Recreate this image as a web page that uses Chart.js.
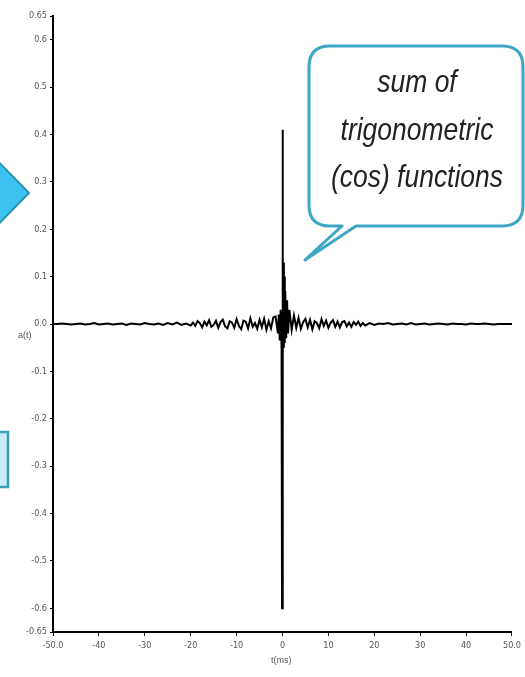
<!DOCTYPE html>
<html>
<head>
<meta charset="utf-8">
<script src="https://cdn.jsdelivr.net/npm/chart.js@4/dist/chart.umd.min.js"></script>
<style>
  body { margin: 0; background: #fff; }
  #wrap { position: relative; width: 525px; height: 677px; overflow: hidden; }
  canvas { position: absolute; left: 0; top: 0; }
  .deco { position: absolute; left: 0; top: 0; }
  .bubble-text {
    position: absolute; left: 310px; width: 214px; text-align: center;
    font-family: "Liberation Sans", Arial, sans-serif;
    font-style: italic; font-size: 27px; color: #222; line-height: 41px; top: 59px;
    transform: scale(0.98, 1.15); transform-origin: 50% 0;
  }
  .axis-title {
    position: absolute; font-family: "Liberation Sans", sans-serif;
    font-size: 9px; color: #555;
  }
</style>
</head>
<body>
<div id="wrap">
  <canvas id="chart" width="525" height="677"></canvas>
  <svg class="deco" width="525" height="677">
    <!-- arrow chevron on the left -->
    <polygon points="-20,143 29,193 -20,243" fill="#3cc3f0" stroke="#2b8fae" stroke-width="2"/>
    <!-- box fragment on the left -->
    <rect x="-10" y="432" width="18" height="55" fill="#c9ecf8" stroke="#3a9fb5" stroke-width="2.5"/>
    <!-- callout -->
    <path d="M330,46 L502,46 Q523,46 523,67 L523,205 Q523,226 502,226 L356,226 L305,260 L342,226 L330,226 Q309,226 309,205 L309,67 Q309,46 330,46 Z"
          fill="#fff" stroke="#3da6c4" stroke-width="3" stroke-linejoin="round"/>
  </svg>
  <div class="bubble-text">sum of<br>trigonometric<br>(cos) functions</div>
  <div class="axis-title" style="left:18px; top:330px;">a(t)</div>
  <div class="axis-title" style="left:271px; top:655px;">t(ms)</div>
</div>
<script>
// time axis samples
const tValues = [
  -50, -49, -48, -47, -46, -45, -44, -43, -42, -41, -40, -39, -38, -37, -36, -35,
  -34, -33, -32, -31, -30, -29, -28, -27, -26, -25, -24, -23, -22, -21, -20,
  -19.5, -19, -18.5, -18, -17.5, -17, -16.5, -16, -15.5, -15, -14.5, -14, -13.5, -13,
  -12.5, -12, -11.5, -11, -10.5, -10, -9.5, -9, -8.5, -8, -7.5, -7, -6.5, -6, -5.5,
  -5, -4.5, -4, -3.5, -3, -2.5, -2, -1.5, -1,
  -0.8, -0.6, -0.4, -0.2, -0.1, 0, 0.1, 0.2, 0.3, 0.4, 0.5, 0.6, 0.8, 1.0, 1.2, 1.5,
  2, 2.5, 3, 3.5, 4, 4.5, 5, 5.5, 6, 6.5, 7, 7.5, 8, 8.5, 9, 9.5, 10, 10.5, 11, 11.5,
  12, 12.5, 13, 13.5, 14, 14.5, 15, 15.5, 16, 16.5, 17, 17.5, 18,
  19, 20, 21, 22, 23, 24, 25, 26, 27, 28, 29, 30, 31, 32, 33, 34, 35, 36, 37, 38,
  39, 40, 41, 42, 43, 44, 45, 46, 47, 48, 49, 50
];
// signal a(t)
const signalValues = [
  0, 0, 0.001, 0, -0.001, 0, 0.001, -0.001, 0, 0.002, -0.001, 0, 0.001, -0.001, 0, 0.001,
  -0.002, 0.001, 0, -0.001, 0.002, 0, -0.001, 0.001, -0.002, 0.002, -0.001, 0.003, -0.002,
  0.001, -0.003,
  0.003, -0.004, 0.006, 0.002, -0.007, 0.005, -0.003, 0.008, -0.006, -0.002, 0.007, -0.008,
  0.004, 0.009, -0.005, -0.009, 0.006, 0.003, -0.008, 0.01, -0.004, -0.011, 0.007, 0.005,
  -0.009, 0.012, -0.006, 0.002, -0.01, 0.009, -0.007, 0.011, -0.012, 0.006, -0.009, 0.014,
  0.016, -0.02,
  0.02, -0.035, 0.03, -0.05, -0.6, 0.41, -0.07, 0.13, -0.05, 0.1, -0.04, 0.07, -0.03,
  0.05, -0.02, 0.03,
  -0.012, 0.018, -0.008, 0.013, -0.01, 0.004, 0.011, -0.007, 0.009, -0.011, 0.006, 0.002,
  -0.009, 0.01, -0.004, 0.007, -0.008, 0.003, 0.008, -0.006, 0.005, -0.007, 0.004, 0.006,
  -0.005, 0.003, -0.006, 0.004, -0.002, 0.005, -0.004, 0.002, -0.003,
  0.002, -0.002, 0.001, 0, 0.002, -0.001, 0, 0.001, -0.001, 0.002, -0.001, 0, 0.001,
  -0.001, 0, 0.001, 0, -0.001, 0.001, 0, 0, -0.001, 0.001, 0, 0, 0.001, 0, -0.001, 0, 0,
  0, 0
];
// tick labels
const xTickValues = [-50, -40, -30, -20, -10, 0, 10, 20, 30, 40, 50];
const xTickLabels = ['-50.0', '-40', '-30', '-20', '-10', '0', '10', '20', '30', '40', '50.0'];
const yTickValues = [-0.65, -0.6, -0.5, -0.4, -0.3, -0.2, -0.1, 0, 0.1, 0.2, 0.3, 0.4, 0.5, 0.6, 0.65];
const yTickLabels = ['-0.65', '-0.6', '-0.5', '-0.4', '-0.3', '-0.2', '-0.1', '0.0', '0.1', '0.2', '0.3', '0.4', '0.5', '0.6', '0.65'];

const tickFont = { family: '"Liberation Sans Narrow", "DejaVu Sans Condensed", sans-serif', size: 9 };

new Chart(document.getElementById('chart'), {
  type: 'line',
  data: {
    datasets: [{
      data: tValues.map((t, i) => ({ x: t, y: signalValues[i] })),
      borderColor: '#000',
      borderWidth: 2,
      pointRadius: 0,
      tension: 0
    }]
  },
  options: {
    responsive: false,
    animation: false,
    layout: { padding: { top: 16, right: 13, bottom: 15, left: 0 } },
    plugins: { legend: { display: false }, tooltip: { enabled: false } },
    scales: {
      x: {
        type: 'linear', min: -50, max: 50,
        afterBuildTicks: s => { s.ticks = xTickValues.map(v => ({ value: v })); },
        afterFit: s => { s.height = 30; },
        ticks: {
          font: tickFont, color: '#555', padding: 4, maxRotation: 0,
          callback: (v) => xTickLabels[xTickValues.indexOf(v)]
        },
        grid: { drawOnChartArea: false, tickLength: 4, color: '#000' },
        border: { color: '#000', width: 2 }
      },
      y: {
        min: -0.65, max: 0.65,
        afterBuildTicks: s => { s.ticks = yTickValues.map(v => ({ value: v })); },
        afterFit: s => { s.width = 53; },
        ticks: {
          font: tickFont, color: '#555', padding: 3,
          callback: (v) => yTickLabels[yTickValues.indexOf(v)]
        },
        grid: { drawOnChartArea: false, tickLength: 3, color: '#000' },
        border: { color: '#000', width: 2 }
      }
    }
  }
});
</script>
</body>
</html>
